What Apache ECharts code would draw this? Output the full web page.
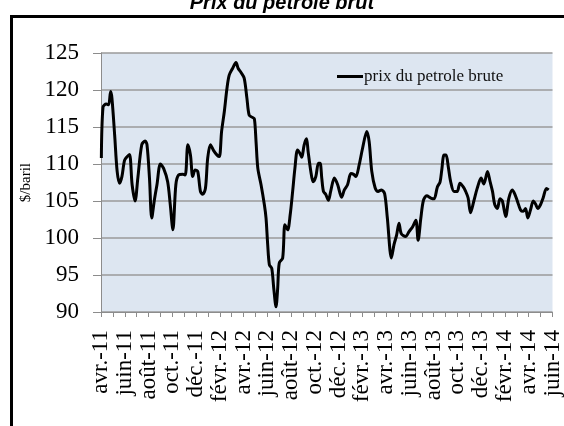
<!DOCTYPE html>
<html>
<head>
<meta charset="utf-8">
<script src="https://cdn.jsdelivr.net/npm/echarts@6/dist/echarts.min.js"></script>
<style>
  html, body { margin: 0; padding: 0; background: #fff; }
  #chart { width: 564px; height: 426px; }
</style>
</head>
<body>
<div id="chart"></div>
<script>
// axis labels, one every two months (avr.-11 .. juin-14)
var monthLabels = ['avr.-11', 'juin-11', 'août-11', 'oct.-11', 'déc.-11', 'févr.-12', 'avr.-12',
  'juin-12', 'août-12', 'oct.-12', 'déc.-12', 'févr.-13', 'avr.-13', 'juin-13', 'août-13',
  'oct.-13', 'déc.-13', 'févr.-14', 'avr.-14', 'juin-14'];
var yTicks = [90, 95, 100, 105, 110, 115, 120, 125];

// position of each reading, in months since avr.-11
var monthPos = [0.03, 0.17, 0.44, 0.64, 0.81, 0.92, 1.15, 1.36, 1.56, 1.76, 1.98, 2.2, 2.4, 2.62, 2.87,
  3.1, 3.43, 3.71, 3.87, 4.08, 4.27, 4.49, 4.71, 5.0, 5.27, 5.61, 5.83, 6.05, 6.3, 6.53, 6.89, 7.09,
  7.31, 7.53, 7.72, 7.92, 8.14, 8.37, 8.56, 8.79, 8.98, 9.21, 9.48, 9.77, 9.96, 10.15, 10.38, 10.6,
  10.79, 11.07, 11.36, 11.55, 11.77, 12.05, 12.28, 12.47, 12.74, 12.91, 13.05, 13.2, 13.47, 13.75,
  13.89, 14.03, 14.17, 14.37, 14.54, 14.73, 14.87, 15.0, 15.29, 15.48, 15.71, 15.92, 16.13, 16.32,
  16.54, 16.76, 16.9, 17.1, 17.3, 17.43, 17.66, 17.85, 18.08, 18.3, 18.44, 18.58, 18.72, 18.91,
  19.14, 19.33, 19.64, 19.92, 20.25, 20.48, 20.75, 21.03, 21.26, 21.45, 21.73, 22.01, 22.37, 22.57,
  22.79, 23.07, 23.32, 23.6, 23.87, 24.1, 24.44, 24.66, 24.88, 25.08, 25.27, 25.63, 25.94, 26.22,
  26.5, 26.69, 26.92, 27.14, 27.42, 27.76, 28.03, 28.31, 28.54, 28.68, 28.87, 29.04, 29.23, 29.43,
  29.71, 29.98, 30.21, 30.49, 30.69, 30.9, 31.1, 31.38, 31.66, 31.99, 32.22, 32.53, 32.75, 32.95,
  33.14, 33.36, 33.58, 33.78, 34.06, 34.33, 34.62, 34.81, 35.04, 35.31, 35.54, 35.73, 35.92, 36.15,
  36.38, 36.57, 36.76, 36.99, 37.21, 37.49, 37.68];

// prix du petrole brute ($/baril)
var prices = [110.8, 117.7, 118.1, 118, 119.8, 118.9, 113.9, 109, 107.4, 108.3, 110.5, 111, 111.3, 107.2, 105,
  108.1, 112.6, 113.1, 112.6, 108.1, 102.7, 105.1, 107.2, 110, 109.4, 107.6, 104.5, 101.1, 107.2, 108.5, 108.6, 108.5,
  112.6, 111.2, 108.3, 109.2, 109, 106.3, 105.9, 106.7, 110.8, 112.6, 111.8, 111.2, 111, 114.4, 117.1, 120.2,
  122, 122.9, 123.7, 122.9, 122.4, 121.6, 118.9, 116.6, 116.3, 116.1, 113, 109.4, 107.2, 104.5,
  102.7, 99.1, 96.4, 95.9, 93.2, 90.7, 93.2, 96.6, 97.3, 101.8, 101.1, 103.1, 106.3, 109.4,
  111.9, 111.4, 110.9, 112.6, 113.4, 111.7, 109, 107.6, 108.3, 110.1, 110.1, 108.1, 106.3, 105.9,
  105.1, 106.3, 108.1, 107.2, 105.5, 106.5, 107.2, 108.7, 108.6, 108.3, 109.9, 112.1, 114.4, 113,
  109, 106.8, 106.3, 106.5, 106, 102.7, 97.3, 99.1, 100.4, 102, 100.6, 100.2, 100.9, 101.5,
  102.4, 99.7, 102.7, 105.1, 105.7, 105.4, 105.3, 106.9, 107.6, 109.2, 111.2, 111.2, 109.6, 107.6,
  106.3, 106.3, 107.4, 106.9, 106.3, 105.4, 103.4, 105, 106.7, 108.1, 107.3, 109, 107.6, 106.3,
  104.5, 104, 105.3, 105, 102.9, 105.4, 106.5, 106, 105, 103.8, 103.6, 104, 102.7, 103.8,
  105, 104.6, 104, 104.5, 105.4, 106.7, 106.5];

var seriesData = [];
for (var i = 0; i < prices.length; i++) {
    seriesData.push([monthPos[i], prices[i]]);
}

var chart = echarts.init(document.getElementById('chart'), null, {renderer: 'canvas'});
var serif = '"Liberation Serif", "DejaVu Serif", serif';

var option = {
    backgroundColor: '#fff',
    animation: false,
    title: {
        text: 'Prix du petrole brut',
        left: 'center',
        top: -12,
        textStyle: {
            fontFamily: '"Liberation Sans", Arial, sans-serif',
            fontSize: 20,
            fontWeight: 'bold',
            fontStyle: 'italic',
            color: '#000'
        }
    },
    legend: {
        left: 332,
        top: 63,
        icon: 'rect',
        itemWidth: 26,
        itemHeight: 3,
        itemGap: 0,
        textStyle: {fontFamily: serif, fontSize: 17, color: '#111', padding: [0, 0, 0, -4]},
        data: ['prix du petrole brute']
    },
    grid: {
        left: 101,
        top: 53,
        right: 9,
        bottom: 114,
        show: true,
        backgroundColor: '#dde6f1',
        borderWidth: 0
    },
    xAxis: {
        type: 'value',
        min: 0,
        max: 38,
        interval: 1,
        splitLine: {show: false},
        axisLine: {lineStyle: {color: '#8c8c8c', width: 1}},
        axisTick: {show: true, length: 5, lineStyle: {color: '#8c8c8c'}},
        axisLabel: {
            rotate: 90,
            margin: 18,
            showMinLabel: true,
            showMaxLabel: true,
            fontFamily: serif,
            fontSize: 23,
            color: '#000',
            formatter: function (v) {
                var k = Math.round(v);
                if (k % 2 !== 0) return '';
                return monthLabels[k / 2] || '';
            }
        }
    },
    yAxis: {
        type: 'value',
        min: yTicks[0],
        max: yTicks[yTicks.length - 1],
        interval: 5,
        axisLine: {show: true, lineStyle: {color: '#8c8c8c', width: 1}},
        axisTick: {show: true, length: 8, lineStyle: {color: '#8c8c8c'}},
        splitLine: {lineStyle: {color: '#9a9a9a', width: 1.5}},
        axisLabel: {fontFamily: serif, fontSize: 23, color: '#000', margin: 22}
    },
    series: [{
        name: 'prix du petrole brute',
        type: 'line',
        data: seriesData,
        smooth: 0.3,
        showSymbol: false,
        lineStyle: {color: '#000', width: 3},
        itemStyle: {color: '#000'}
    }],
    graphic: [
        {
            type: 'rect',
            left: 9,
            top: 14,
            shape: {width: 600, height: 460},
            style: {fill: 'none', stroke: '#000', lineWidth: 3}
        },
        {
            type: 'text',
            left: 19,
            top: 163,
            rotation: Math.PI / 2,
            style: {text: '$/baril', font: '15px ' + serif, fill: '#000'}
        }
    ]
};
chart.setOption(option);
</script>
</body>
</html>
